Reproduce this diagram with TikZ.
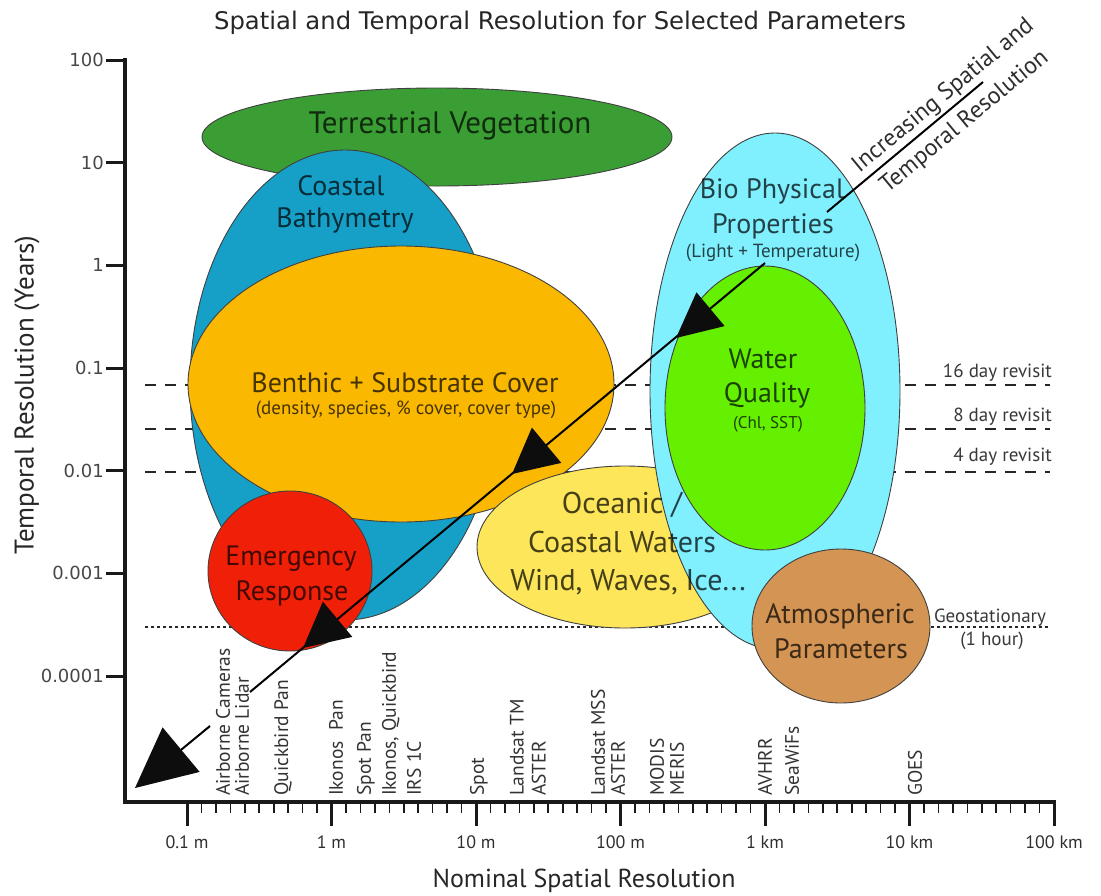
\documentclass[tikz,border=0pt]{standalone}
\usepackage{fontspec}
\setmainfont{PT Sans}
\newfontfamily\wideface{DejaVu Sans}
\usetikzlibrary{arrows.meta,calc,shapes.geometric}

\definecolor{vegfill}{RGB}{58,158,52}
\definecolor{bathyfill}{RGB}{22,160,200}
\definecolor{benthfill}{RGB}{250,185,0}
\definecolor{emergfill}{RGB}{240,32,8}
\definecolor{oceanfill}{RGB}{253,230,90}
\definecolor{biofill}{RGB}{128,240,255}
\definecolor{wqfill}{RGB}{100,240,0}
\definecolor{atmofill}{RGB}{212,148,84}

% filled head placed on the trend line: tip, length, half width
\newcommand\trendhead[3]{%
  \path ($(#1)!#2!(trendS)$) coordinate (hb);
  \fill[headfill] (#1) -- ($(hb)!#3!90:(#1)$) -- ($(hb)!#3!-90:(#1)$) -- cycle;
}

\begin{document}
\begin{tikzpicture}[x=1pt,y=-1pt,
  zone/.style={ellipse, draw=black!75, line width=0.9pt, inner sep=0pt, outer sep=0pt},
  zonelabel/.style={text=black, text opacity=0.72, anchor=base, inner sep=0pt, font=\fontsize{28}{30}\selectfont},
  zonenote/.style={text=black, text opacity=0.72, anchor=base, inner sep=0pt, font=\fontsize{19}{21}\selectfont},
  axisstroke/.style={line width=3.5pt, draw=black!90},
  ytick/.style={line width=3pt, draw=black!90},
  xmajor/.style={line width=3pt, draw=black!90},
  xminor/.style={line width=1.6pt, draw=black!90},
  yticklabel/.style={anchor=east, inner sep=0pt, text=black!72, font=\wideface\fontsize{18}{20}\selectfont},
  xticklabel/.style={anchor=base, inner sep=0pt, text=black!82, font=\fontsize{18}{20}\selectfont},
  sensor/.style={rotate=90, anchor=west, inner sep=0pt, align=left, text=black!80},
  revisitline/.style={line width=2.5pt, dash pattern=on 11pt off 9pt, draw=black!85},
  geoline/.style={line width=2.5pt, dash pattern=on 2.5pt off 3.5pt, draw=black!85},
  revisitlabel/.style={anchor=base east, inner sep=0pt, text=black!78, font=\fontsize{19}{21}\selectfont},
  trend/.style={line width=2pt, draw=black},
  headfill/.style={fill=black!95},
  trendlabel/.style={rotate=39.6, inner sep=0pt, align=center, text=black!82, font=\fontsize{24}{33.5}\selectfont},
]
\useasboundingbox (0,0) rectangle (1101,895);

% title
\node[anchor=base, inner sep=0pt, font=\wideface\fontsize{24.3}{26}\selectfont, text=black!85]
  (title) at (560,29) {Spatial and Temporal Resolution for Selected Parameters};

% revisit intervals
\coordinate (r16a) at (145,385); \coordinate (r16b) at (1050,385);
\coordinate (r8a)  at (145,429); \coordinate (r8b)  at (1050,429);
\coordinate (r4a)  at (145,472); \coordinate (r4b)  at (1050,472);
\coordinate (geoa) at (145,627); \coordinate (geob) at (1050,627);
\draw[revisitline] (r16a) -- (r16b);
\draw[revisitline] (r8a) -- (r8b);
\draw[revisitline] (r4a) -- (r4b);
\draw[geoline] (geoa) -- (geob);

% parameter zones
\node[zone, fill=vegfill,   minimum width=470pt, minimum height=98pt]  (veg)   at (437,137) {};
\node[zone, fill=bathyfill, minimum width=310pt, minimum height=470pt] (bathy) at (345,385) {};
\node[zone, fill=benthfill, minimum width=426pt, minimum height=276pt] (benth) at (401,384) {};
\node[zone, fill=emergfill, minimum width=164pt, minimum height=160pt] (emerg) at (290,571) {};
\node[zone, fill=oceanfill, minimum width=296pt, minimum height=162pt] (ocean) at (625,547) {};
\node[zone, fill=biofill,   minimum width=250pt, minimum height=516pt] (bio)   at (775,391) {};
\node[zone, fill=wqfill,    minimum width=200pt, minimum height=284pt] (wq)    at (765,408) {};
\node[zone, fill=atmofill,  minimum width=178pt, minimum height=154pt] (atmo)  at (841,626) {};

% zone labels
\node[zonelabel, font=\fontsize{31}{33}\selectfont] (vegT) at (450,133) {Terrestrial Vegetation};
\node[zonelabel] (bathyT1) at (341,195) {Coastal};
\node[zonelabel] (bathyT2) at (345,227) {Bathymetry};
\node[zonelabel] (benthT) at (405,392) {Benthic + Substrate Cover};
\node[zonenote]  (benthN) at (406,414) {(density, species, \% cover, cover type)};
\node[zonelabel] (emergT1) at (291,565) {Emergency};
\node[zonelabel] (emergT2) at (292,600) {Response};
\node[zonelabel, font=\fontsize{30}{32}\selectfont] (oceanT1) at (622,513) {Oceanic /};
\node[zonelabel, font=\fontsize{30}{32}\selectfont] (oceanT2) at (622,552) {Coastal Waters};
\node[zonelabel, font=\fontsize{30}{32}\selectfont] (oceanT3) at (628,590) {Wind, Waves, Ice...};
\node[zonelabel] (bioT1) at (772,198) {Bio Physical};
\node[zonelabel] (bioT2) at (773,233) {Properties};
\node[zonenote]  (bioN)  at (773,257) {(Light + Temperature)};
\node[zonelabel] (wqT1) at (763,368) {Water};
\node[zonelabel] (wqT2) at (767,402) {Quality};
\node[zonenote, font=\fontsize{17}{19}\selectfont] (wqN) at (768,428) {(Chl, SST)};
\node[zonelabel] (atmoT1) at (840,623) {Atmospheric};
\node[zonelabel] (atmoT2) at (841,658) {Parameters};

% trend arrow towards finer resolution
\coordinate (trendS) at (983,82);
\coordinate (gapAa) at (827,212); \coordinate (gapAb) at (765,263);
\coordinate (gapBa) at (250,692); \coordinate (gapBb) at (210,726);
\coordinate (tipA) at (676,338);
\coordinate (tipB) at (512,474);
\coordinate (tipC) at (303,648);
\coordinate (tipD) at (135,788);
\draw[trend] (trendS) -- (gapAa);
\draw[trend] (gapAb) -- (gapBa);
\draw[trend] (gapBb) -- ($(tipD)!30pt!(trendS)$);
\trendhead{tipA}{45pt}{22pt}
\trendhead{tipB}{45pt}{23pt}
\trendhead{tipC}{45pt}{23pt}
\trendhead{tipD}{60pt}{29pt}
\node[trendlabel] (trendT) at (954,109) {Increasing Spatial and\\Temporal Resolution};

% revisit labels
\node[revisitlabel] (l16) at (1052,377) {16 day revisit};
\node[revisitlabel] (l8)  at (1052,421) {8 day revisit};
\node[revisitlabel] (l4)  at (1052,461) {4 day revisit};
\node[anchor=base, inner sep=0pt, align=center, text=black!78, font=\fontsize{19}{23}\selectfont]
  (geoT) at (990,645) {Geostationary\\\hspace*{4pt}(1 hour)};

% sensors along the spatial axis
\node[sensor, font=\fontsize{19.5}{19}\selectfont] (sAir)  at (232.5,796) {Airborne Cameras\\Airborne Lidar};
\node[sensor, font=\fontsize{19.5}{21}\selectfont] (sQb)   at (283,796) {Quickbird Pan};
\node[sensor, font=\fontsize{19.5}{21}\selectfont] (sIkP)  at (336,796) {Ikonos\ \ Pan};
\node[sensor, font=\fontsize{19.5}{25}\selectfont] (sSpP)  at (389,796) {Spot Pan\\Ikonos, Quickbird\\IRS 1C};
\node[sensor, font=\fontsize{19.5}{21}\selectfont] (sSpot) at (479,796) {Spot};
\node[sensor, font=\fontsize{19.5}{22}\selectfont] (sLTM)  at (528,796) {Landsat TM\\ASTER};
\node[sensor, font=\fontsize{19.5}{20}\selectfont] (sLMSS) at (608,796) {Landsat MSS\\ASTER};
\node[sensor, font=\fontsize{19.5}{20}\selectfont] (sMod)  at (667,796) {MODIS\\MERIS};
\node[sensor, font=\fontsize{19.5}{27}\selectfont] (sAvh)  at (778.5,796) {AVHRR\\SeaWiFs};
\node[sensor, font=\fontsize{19.5}{21}\selectfont] (sGoes) at (915,796) {GOES};

% axes
\coordinate (origin) at (125,802);
\coordinate (ytop) at (125,58);
\coordinate (xend) at (1056,802);
\draw[axisstroke] (ytop) -- (origin) -- (xend);

\foreach \k/\lab in {0/100, 1/10, 2/1, 3/0.1, 4/0.01, 5/0.001, 6/0.0001} {
  \pgfmathsetmacro\ty{60+\k*102.67}
  \draw[ytick] (106,\ty) -- (125,\ty);
  \node[yticklabel] at (104,\ty) {\lab};
}
\foreach \k/\lab in {0/0.1 m, 1/1 m, 2/10 m, 3/100 m, 4/1 km, 5/10 km, 6/100 km} {
  \pgfmathsetmacro\tx{187+\k*144.5}
  \draw[xmajor] (\tx,802) -- (\tx,826);
  \node[xticklabel] at (\tx,848) {\lab};
}
\foreach \k in {0,...,5} {
  \foreach \m in {1,...,9} {
    \pgfmathsetmacro\tx{187+\k*144.5+\m*14.45}
    \draw[xminor] (\tx,802) -- (\tx,813);
  }
}

\node[anchor=base, inner sep=0pt, text=black!85, font=\fontsize{26}{28}\selectfont] (xlab) at (584,887) {Nominal Spatial Resolution};
\node[rotate=90, inner sep=0pt, text=black!85, font=\fontsize{27}{29}\selectfont] (ylab) at (27,395) {Temporal Resolution (Years)};
\end{tikzpicture}
\end{document}
